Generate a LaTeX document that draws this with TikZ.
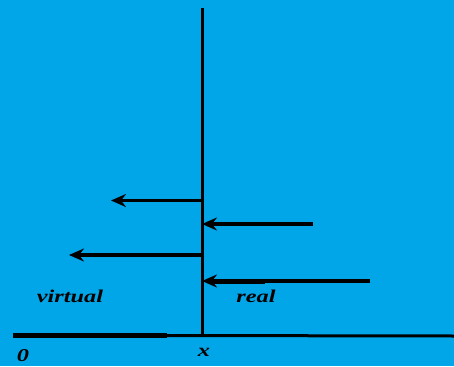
\documentclass[tikz,border=0pt]{standalone}
\usepackage{fontspec}
\setmainfont{Liberation Serif}
\usetikzlibrary{arrows.meta}
\definecolor{skyfill}{RGB}{0,166,232}
\tikzset{
  ray/.style={line width=3.4pt, -{Stealth[length=15pt,width=13pt,inset=5pt]}},
  label/.style={inner sep=0pt, font=\fontsize{18}{18}\selectfont\bfseries\itshape, xscale=1.35},
}
\begin{document}
\begin{tikzpicture}[x=1pt,y=-1pt]
  \fill[skyfill] (0,0) rectangle (454,366);
  \useasboundingbox (0,0) rectangle (454,366);

  % mirror plane and baseline
  \coordinate (top) at (202.5,8);
  \coordinate (foot) at (202.5,335);
  \coordinate (axL) at (13,335.5);
  \coordinate (axM) at (167,335.5);
  \coordinate (axR) at (454,336);
  \draw[line width=2.8pt] (top) -- (foot);
  \draw[line width=5.2pt] (axL) -- (axM);
  \draw[line width=3pt] (axM) -- (axR);

  % virtual rays leaving the plane to the left
  \coordinate (v1s) at (204,200.5);
  \coordinate (v1e) at (111,200.5);
  \coordinate (v2s) at (204,255);
  \coordinate (v2e) at (69,255);
  \draw[ray] (v1s) -- (v1e);
  \draw[ray] (v2s) -- (v2e);

  % real rays arriving from the right
  \coordinate (r1s) at (313,224);
  \coordinate (r1e) at (202,224);
  \coordinate (r2s) at (370,281);
  \coordinate (r2e) at (202,281);
  \draw[ray] (r1s) -- (r1e);
  \draw[ray] (r2s) -- (r2e);
  \draw[line width=4.8pt] (265,224) -- (303,224);
  \draw[line width=4.4pt] (212,282) -- (265,282);

  % labels
  \node[label] (virt) at (70,296) {virtual};
  \node[label] (real) at (256,296) {real};
  \node[label] (zero) at (23,356) {0};
  \node[label] (xpos) at (204,352) {x};
\end{tikzpicture}
\end{document}
